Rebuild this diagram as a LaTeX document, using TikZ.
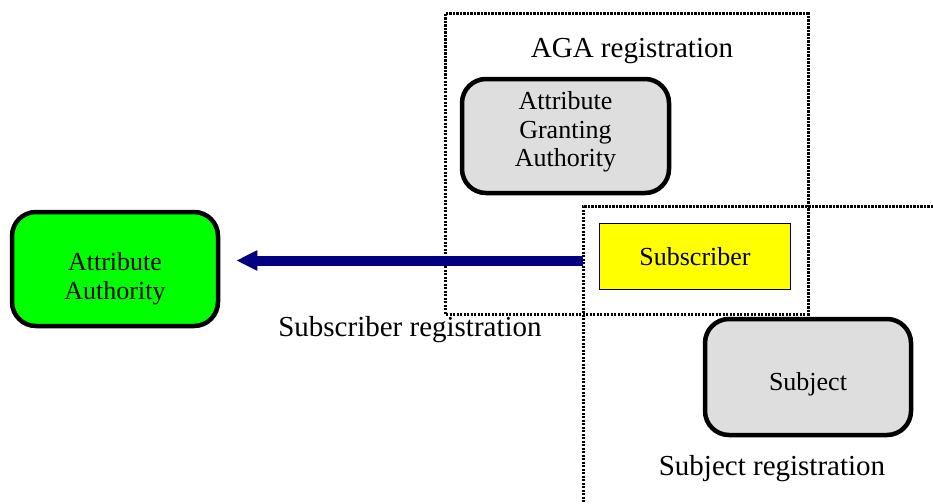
\documentclass[tikz,border=0pt]{standalone}
\usepackage{fontspec}
\setmainfont{Liberation Serif}
\usetikzlibrary{arrows.meta,positioning}

\definecolor{aagreen}{HTML}{00FF00}
\definecolor{boxgray}{HTML}{DEDEDE}
\definecolor{arrnavy}{HTML}{000080}
\definecolor{subyellow}{HTML}{FFFF00}

\tikzset{
  entity/.style={draw, line width=4.5pt, rounded corners=24pt, fill=boxgray, inner sep=0pt},
  boxtext/.style={align=center, font=\fontsize{26}{28.5}\selectfont, inner sep=0pt},
  regbox/.style={draw, line width=3pt, dash pattern=on 2.2pt off 1.3pt},
  reglabel/.style={font=\fontsize{29}{32}\selectfont, inner sep=0pt},
  regarrow/.style={draw=arrnavy, line width=10pt,
    -{Triangle[length=21pt,width=19pt]}}
}

\begin{document}
\begin{tikzpicture}[x=1pt,y=-1pt]
  \useasboundingbox (0,0) rectangle (933,503);

  % Registration areas
  \draw[regbox] (445,14) rectangle (808,314);
  \draw[regbox] (933,206) -- (583,206) -- (583,503);
  \node[reglabel] (agalbl) at (632,51) {AGA registration};
  \node[reglabel] (sublbl) at (410,330) {Subscriber registration};
  \node[reglabel] (subjlbl) at (772,469) {Subject registration};

  % Entities
  \node[entity, minimum width=207pt, minimum height=114pt,
    label={[boxtext, yshift=4pt]center:Attribute\\Granting\\Authority}] (aga) at (565.5,136) {};
  \node[entity, fill=aagreen, minimum width=206pt, minimum height=114pt,
    label={[boxtext, yshift=-10pt]center:Attribute\\Authority}] (aa) at (115,269) {};
  \node[entity, minimum width=206pt, minimum height=116pt,
    label={[boxtext, yshift=-7pt]center:Subject}] (subj) at (808,377) {};
  \node[draw, line width=1.5pt, fill=subyellow, minimum width=191pt, minimum height=66pt,
    boxtext, yshift=-1pt] (sub) at (695,255.5) {Subscriber};

  % Registration of the subscriber
  \draw[regarrow, shorten <=16pt, shorten >=16pt]
    ([yshift=-4pt]sub.west) -- ([yshift=-4pt]sub.west -| aa.east);
\end{tikzpicture}
\end{document}
